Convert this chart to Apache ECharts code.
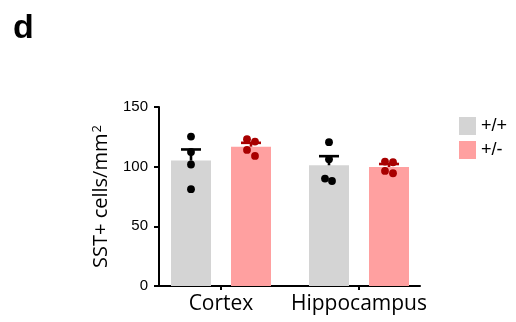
<!DOCTYPE html>
<html>
<head>
<meta charset="utf-8">
<script src="https://cdn.jsdelivr.net/npm/echarts@6/dist/echarts.min.js"></script>
<style>html,body{margin:0;padding:0;background:#fff;}#c{width:516px;height:322px;}</style>
</head>
<body>
<div id="c"></div>
<script>
// ---- data ----
const categories = ['Cortex', 'Hippocampus'];
const groupNames = ['+/+', '+/-'];
const wtPoints = [[125.2, 112.3, 101.8, 81.1], [120.5, 106.2, 90.0, 88.0]];
const hetPoints = [[123.0, 121.0, 114.0, 109.0], [104.3, 103.7, 96.4, 94.5]];
const yTicks = [0, 50, 100, 150];

// ---- style ----
const wtBar = '#d4d4d4', hetBar = '#ffa0a0';
const wtDot = '#000000', hetDot = '#a80000';
const barW = 40, barGapPx = 20;
const seriesOffset = (barW + barGapPx) / 2; // px offset of each bar from category center
const wtJitter = [[0, 0, 0, 0], [0, 0, -4, 3]];
const hetJitter = [[-4, 4, -4, 4], [-4, 4, -4, 4]];

function mean(a) { return a.reduce((s, v) => s + v, 0) / a.length; }
function sem(a) { const m = mean(a); const v = a.reduce((s, x) => s + (x - m) * (x - m), 0) / (a.length - 1); return Math.sqrt(v) / Math.sqrt(a.length); }

const wtMeans = wtPoints.map(mean), hetMeans = hetPoints.map(mean);

function dotData(points, jit) {
  const out = [];
  points.forEach((arr, ci) => arr.forEach((v, k) => out.push([ci, v, jit[ci][k]])));
  return out;
}
function errData(points) { return points.map((arr, ci) => [ci, mean(arr), mean(arr) + sem(arr)]); }

function dotSeries(name, points, jit, off, color) {
  return {
    type: 'custom', name: name + ' pts', xAxisIndex: 0, yAxisIndex: 0, z: 4,
    data: dotData(points, jit),
    renderItem: function (params, api) {
      const p = api.coord([api.value(0), api.value(1)]);
      return { type: 'circle', shape: { cx: p[0] + off + api.value(2), cy: p[1], r: 3.9 }, style: { fill: color } };
    }
  };
}
function errSeries(name, points, off, color) {
  return {
    type: 'custom', name: name + ' err', xAxisIndex: 0, yAxisIndex: 0, z: 5,
    data: errData(points),
    renderItem: function (params, api) {
      const a = api.coord([api.value(0), api.value(1)]);
      const b = api.coord([api.value(0), api.value(2)]);
      const x = a[0] + off;
      return {
        type: 'group', children: [
          { type: 'line', shape: { x1: x, y1: a[1], x2: x, y2: b[1] }, style: { stroke: color, lineWidth: 2.6 } },
          { type: 'line', shape: { x1: x - 10, y1: b[1], x2: x + 10, y2: b[1] }, style: { stroke: color, lineWidth: 2.6 } }
        ]
      };
    }
  };
}

const chart = echarts.init(document.getElementById('c'), null, { renderer: 'canvas' });
chart.setOption({
  animation: false,
  backgroundColor: '#fff',
  title: { text: 'd', left: 8, top: 7, textStyle: { fontFamily: 'Liberation Sans', fontSize: 34, fontWeight: 'bold', color: '#000' } },
  legend: {
    data: groupNames, orient: 'vertical', left: 454, top: 112, itemWidth: 17, itemHeight: 18, itemGap: 6, icon: 'rect',
    textStyle: { fontFamily: 'Liberation Sans', fontSize: 18, color: '#000' }
  },
  grid: [
    { left: 152, right: 88, top: 107, bottom: 36 },
    { left: 159, right: 96, top: 107, bottom: 36 }
  ],
  xAxis: [
    { type: 'category', gridIndex: 0, data: categories,
      axisLine: { show: false },
      axisTick: { show: true, alignWithLabel: true, length: 4, lineStyle: { color: '#000', width: 2 } },
      axisLabel: { interval: 0, fontFamily: 'Open Sans', fontSize: 21, color: '#000', margin: 8 } },
    { type: 'category', gridIndex: 1, data: categories,
      axisLine: { show: true, lineStyle: { color: '#000', width: 2 } },
      axisTick: { show: false }, axisLabel: { show: false } }
  ],
  yAxis: [
    { type: 'value', gridIndex: 0, min: yTicks[0], max: yTicks[yTicks.length - 1], interval: 50, show: false },
    { type: 'value', gridIndex: 1, min: yTicks[0], max: yTicks[yTicks.length - 1], interval: 50,
      axisLine: { show: true, lineStyle: { color: '#000', width: 2 } },
      axisTick: { show: true, length: 5, lineStyle: { color: '#000', width: 2 } },
      axisLabel: { fontFamily: 'Liberation Sans', fontSize: 15, color: '#000', margin: 11 },
      splitLine: { show: false },
      name: '{a|SST+ cells/mm}{b|2}', nameLocation: 'middle', nameRotate: 90, nameGap: 48,
      nameTextStyle: { rich: {
        a: { fontFamily: 'Open Sans', fontSize: 20, color: '#000' },
        b: { fontFamily: 'Open Sans', fontSize: 13, color: '#000', verticalAlign: 'top', padding: [0, 0, 0, 1] }
      } } }
  ],
  series: [
    { type: 'bar', name: groupNames[0], xAxisIndex: 0, yAxisIndex: 0, data: wtMeans, barWidth: barW, barGap: (barGapPx / barW * 100) + '%', itemStyle: { color: wtBar }, z: 2 },
    { type: 'bar', name: groupNames[1], xAxisIndex: 0, yAxisIndex: 0, data: hetMeans, barWidth: barW, barGap: (barGapPx / barW * 100) + '%', itemStyle: { color: hetBar }, z: 2 },
    dotSeries('wt', wtPoints, wtJitter, -seriesOffset, wtDot),
    dotSeries('het', hetPoints, hetJitter, seriesOffset, hetDot),
    errSeries('wt', wtPoints, -seriesOffset, wtDot),
    errSeries('het', hetPoints, seriesOffset, hetDot)
  ]
});
</script>
</body>
</html>
